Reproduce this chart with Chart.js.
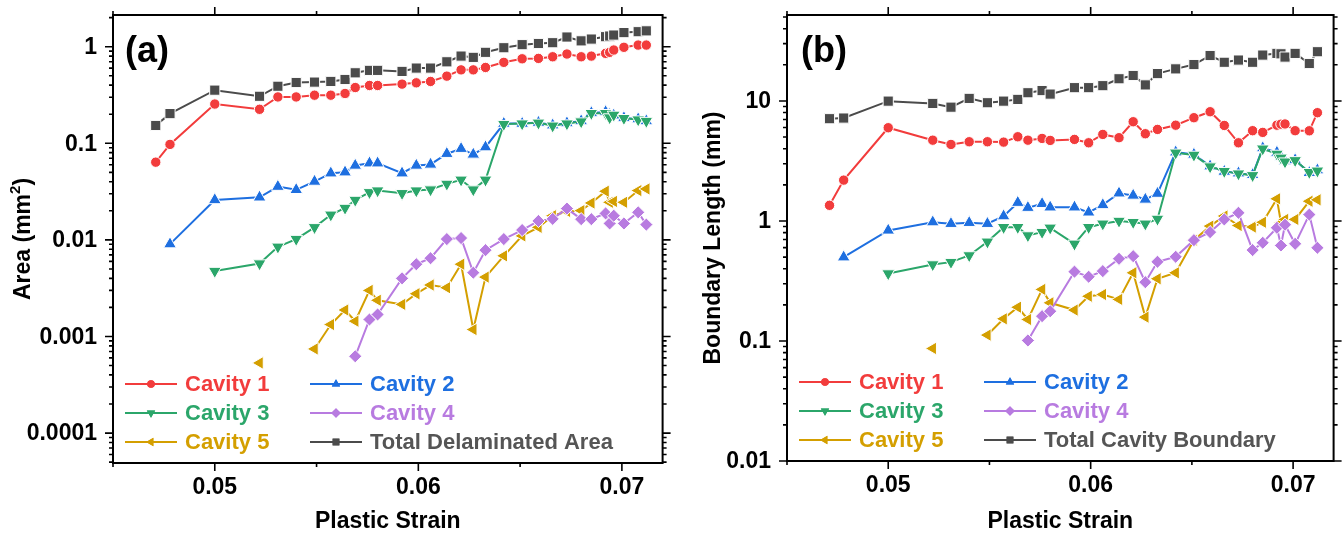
<!DOCTYPE html>
<html>
<head>
<meta charset="utf-8">
<script src="https://cdn.jsdelivr.net/npm/chart.js@4.4.1/dist/chart.umd.min.js"></script>
<style>
  body { margin: 0; background: #fff; }
  .panel { position: absolute; top: 0; width: 671px; height: 536px; }
</style>
</head>
<body>
<div class="panel" style="left:0"><canvas id="chartA" width="671" height="536"></canvas></div>
<div class="panel" style="left:671px"><canvas id="chartB" width="671" height="536"></canvas></div>
<script>
// plastic strain at each measurement
const strain = [0.0471, 0.0478, 0.0500, 0.0522, 0.0531, 0.0540, 0.0549, 0.0557, 0.0564, 0.0569,
                0.0576, 0.0580, 0.0592, 0.0599, 0.0606, 0.0614, 0.0621, 0.0627, 0.0633, 0.0642,
                0.0651, 0.0659, 0.0666, 0.0673, 0.0680, 0.0685, 0.0692, 0.0694, 0.0696, 0.0701,
                0.0708, 0.0712];

const seriesNames = ["Cavity 1", "Cavity 2", "Cavity 3", "Cavity 4", "Cavity 5"];

// (a) area, mm^2
const areaC1 = [0.0638, 0.0974, 0.255, 0.225, 0.302, 0.302, 0.315, 0.315, 0.328, 0.378,
                0.397, 0.397, 0.41, 0.423, 0.437, 0.496, 0.576, 0.576, 0.61, 0.689,
                0.75, 0.757, 0.787, 0.84, 0.787, 0.80, 0.854, 0.875, 0.924, 0.986,
                1.04, 1.04];
const areaC2 = [null, 0.00904, 0.0259, 0.0276, 0.0356, 0.033, 0.0402, 0.049, 0.0502, 0.0589,
                0.0622, 0.0622, 0.049, 0.0589, 0.0604, 0.078, 0.0879, 0.0767, 0.0912, 0.16,
                0.16, 0.164, 0.154, 0.162, 0.17, 0.206, 0.211, 0.198, 0.195, 0.183,
                0.178, 0.17];
const areaC3 = [null, null, 0.00476, 0.00569, 0.00848, 0.0102, 0.0135, 0.0182, 0.0214, 0.0259,
                0.0311, 0.0324, 0.0304, 0.0324, 0.0332, 0.038, 0.0419, 0.0332, 0.0419, 0.158,
                0.16, 0.163, 0.152, 0.16, 0.168, 0.205, 0.205, 0.185, 0.197, 0.182,
                0.176, 0.17];
const areaC4 = [null, null, null, null, null, null, null, null, null, 0.000624,
                0.0015, 0.00169, 0.004, 0.0056, 0.00646, 0.0102, 0.01045, 0.00458, 0.00783, 0.0102,
                0.01265, 0.0157, 0.0165, 0.0211, 0.0164, 0.0164, 0.0188, 0.0148, 0.0178, 0.0148,
                0.0193, 0.0144];
const areaC5 = [null, null, null, 0.000532, null, null, 0.000743, 0.00133, 0.00188, 0.00144,
                0.003, 0.00237, 0.00215, 0.00277, 0.00341, 0.0032, 0.0056, 0.00118, 0.00412, 0.00684,
                0.011, 0.0135, 0.0178, 0.0197, 0.0201, 0.0241, 0.0319, 0.0245, 0.025, 0.0245,
                0.0324, 0.0337];
const areaTotal = [0.153, 0.203, 0.355, 0.307, 0.39, 0.426, 0.43, 0.437, 0.458, 0.537,
                   0.569, 0.569, 0.555, 0.601, 0.601, 0.698, 0.80, 0.776, 0.875, 0.976,
                   1.05, 1.08, 1.10, 1.26, 1.15, 1.20, 1.27, 1.29, 1.32, 1.40,
                   1.43, 1.46];

// (b) boundary length, mm
const lenC1 = [1.35, 2.19, 5.98, 4.71, 4.34, 4.57, 4.57, 4.54, 5.03, 4.71,
               4.87, 4.69, 4.78, 4.48, 5.26, 4.94, 6.71, 5.33, 5.79, 6.28,
               7.25, 8.13, 6.25, 4.48, 5.65, 5.47, 6.28, 6.4, 6.43, 5.65,
               5.64, 7.98];
const lenC2 = [null, 0.499, 0.834, 0.977, 0.948, 0.966, 0.948, 1.097, 1.42, 1.29,
               1.39, 1.30, 1.30, 1.18, 1.36, 1.70, 1.63, 1.51, 1.69, 3.74,
               3.58, 2.86, 2.58, 2.5, 2.42, 4.05, 3.72, 3.42, 3.15, 3.22,
               2.52, 2.65];
const lenC3 = [null, null, 0.365, 0.434, 0.454, 0.516, 0.671, 0.887, 0.887, 0.757,
               0.807, 0.877, 0.645, 0.887, 0.948, 1.0, 0.977, 0.948, 1.04, 3.7,
               3.55, 2.84, 2.6, 2.48, 2.4, 4.0, 3.62, 3.36, 3.12, 3.2,
               2.55, 2.62];
const lenC4 = [null, null, null, null, null, null, null, null, null, 0.101,
               0.161, 0.177, 0.378, 0.343, 0.382, 0.484, 0.509, 0.309, 0.457, 0.503,
               0.692, 0.807, 1.03, 1.17, 0.572, 0.658, 0.877, 0.625, 0.93, 0.645,
               1.13, 0.598];
const lenC5 = [null, null, null, 0.0866, null, null, 0.112, 0.153, 0.191, 0.151,
               0.269, 0.208, 0.181, 0.236, 0.244, 0.222, 0.37, 0.158, 0.33, 0.37,
               0.692, 0.906, 1.1, 0.917, 0.89, 0.975, 1.53, 0.966, 1.03, 1.03,
               1.46, 1.5];
const lenTotal = [7.11, 7.2, 9.96, 9.53, 8.87, 10.5, 9.66, 9.96, 10.3, 11.7,
                  12.2, 11.4, 12.9, 12.9, 13.4, 15.3, 16.3, 13.6, 16.9, 18.5,
                  20.1, 23.9, 21.0, 21.9, 21.0, 24.1, 24.9, 24.7, 23.2, 24.9,
                  20.5, 25.7];

// axis ticks
const xMajor = [0.05, 0.06, 0.07];
const xMinor = [0.045, 0.055, 0.065];
const xLabels = ["0.05", "0.06", "0.07"];
const yMajorA = [1, 0.1, 0.01, 0.001, 0.0001];
const yLabelsA = ["1", "0.1", "0.01", "0.001", "0.0001"];
const yMajorB = [10, 1, 0.1, 0.01];
const yLabelsB = ["10", "1", "0.1", "0.01"];

const FONT = '"Liberation Sans", Arial, sans-serif';

const styles = [
  { color: '#F23C3C', pointStyle: 'circle', radius: 5.2, rotation: 0, order: 1 },
  { color: '#1E6FE0', pointStyle: 'triangle', radius: 7.4, rotation: 0, order: 3 },
  { color: '#2BA66A', pointStyle: 'triangle', radius: 7.4, rotation: 180, order: 2 },
  { color: '#B87BE0', pointStyle: 'rectRot', radius: 6.6, rotation: 0, order: 4 },
  { color: '#D49F00', pointStyle: 'triangle', radius: 7.4, rotation: 270, order: 5 },
  { color: '#4B4B4B', pointStyle: 'rect', radius: 7.2, rotation: 0, order: 6 }
];

const makeDatasets = (seriesList, labels) => seriesList.map((vals, i) => ({
  label: labels[i],
  data: strain.map((s, k) => ({ x: s, y: vals[k] })),
  borderColor: styles[i].color,
  backgroundColor: styles[i].color,
  borderWidth: 2,
  pointStyle: styles[i].pointStyle,
  pointRotation: styles[i].rotation,
  pointRadius: styles[i].radius,
  pointBackgroundColor: styles[i].color,
  pointBorderColor: '#ffffff',
  pointBorderWidth: 1,
  order: styles[i].order,
  tension: 0,
  spanGaps: false,
  fill: false
}));

// frame, outward ticks, labels, titles, panel letter and legend
const framePlugin = {
  id: 'frame',
  afterDraw(chart, args, opts) {
    const { ctx, chartArea: a } = chart;
    const x = chart.scales.x, y = chart.scales.y;
    ctx.save();
    ctx.strokeStyle = '#000';
    ctx.fillStyle = '#000';
    ctx.lineWidth = 2;
    ctx.strokeRect(a.left, a.top, a.right - a.left, a.bottom - a.top);

    ctx.lineWidth = 1.6;
    ctx.beginPath();
    xMajor.forEach(v => {
      const px = x.getPixelForValue(v);
      ctx.moveTo(px, a.bottom); ctx.lineTo(px, a.bottom + 8);
      ctx.moveTo(px, a.top); ctx.lineTo(px, a.top - 8);
    });
    xMinor.forEach(v => {
      const px = x.getPixelForValue(v);
      ctx.moveTo(px, a.bottom); ctx.lineTo(px, a.bottom + 4);
      ctx.moveTo(px, a.top); ctx.lineTo(px, a.top - 4);
    });
    const lo = Math.floor(Math.log10(y.min)), hi = Math.ceil(Math.log10(y.max));
    for (let d = lo; d <= hi; d++) {
      for (let m = 1; m <= 9; m++) {
        const v = m * Math.pow(10, d);
        if (v < y.min * 0.999 || v > y.max * 1.001) continue;
        const py = y.getPixelForValue(v);
        const len = m === 1 ? 8 : 4;
        ctx.moveTo(a.left, py); ctx.lineTo(a.left - len, py);
        ctx.moveTo(a.right, py); ctx.lineTo(a.right + len, py);
      }
    }
    ctx.stroke();

    ctx.font = 'bold 23px ' + FONT;
    ctx.textAlign = 'center';
    ctx.textBaseline = 'middle';
    xMajor.forEach((v, i) => ctx.fillText(xLabels[i], x.getPixelForValue(v), a.bottom + 25));
    ctx.textAlign = 'right';
    opts.yMajor.forEach((v, i) => ctx.fillText(opts.yLabels[i], a.left - 16, y.getPixelForValue(v) + 1));

    ctx.textAlign = 'center';
    ctx.fillText('Plastic Strain', (a.left + a.right) / 2, 522);

    // rotated y title, with optional superscript part
    ctx.save();
    ctx.translate(a.left - opts.titleOffset, (a.top + a.bottom) / 2);
    ctx.rotate(-Math.PI / 2);
    const parts = opts.yTitle;
    const widths = parts.map(p => {
      ctx.font = (p.sup ? 'bold 15px ' : 'bold 23px ') + FONT;
      return ctx.measureText(p.t).width;
    });
    let cx = -widths.reduce((s, w) => s + w, 0) / 2;
    ctx.textAlign = 'left';
    parts.forEach((p, i) => {
      ctx.font = (p.sup ? 'bold 15px ' : 'bold 23px ') + FONT;
      ctx.fillText(p.t, cx, p.sup ? -8 : 0);
      cx += widths[i];
    });
    ctx.restore();

    ctx.font = 'bold 36px ' + FONT;
    ctx.textAlign = 'left';
    ctx.textBaseline = 'alphabetic';
    ctx.fillText(opts.letter, a.left + opts.letterDx, 62);

    // legend, two columns
    ctx.font = 'bold 22px ' + FONT;
    ctx.textBaseline = 'middle';
    chart.data.datasets.forEach((ds, i) => {
      const col = i % 2, row = Math.floor(i / 2);
      const x0 = a.left + 12 + col * 185;
      const yy = a.bottom - 79 + row * 29;
      ctx.strokeStyle = ds.borderColor;
      ctx.lineWidth = 2;
      ctx.beginPath();
      ctx.moveTo(x0, yy); ctx.lineTo(x0 + 52, yy);
      ctx.stroke();
      ctx.fillStyle = ds.borderColor;
      Chart.helpers.drawPoint(ctx, {
        pointStyle: ds.pointStyle, rotation: ds.pointRotation,
        radius: ds.pointStyle === 'circle' ? 3.8 : 4.8, borderWidth: 0
      }, x0 + 26, yy);
      ctx.fill();
      ctx.fillStyle = i === 5 ? '#555555' : ds.borderColor;
      ctx.fillText(ds.label, x0 + 60, yy + 1);
    });
    ctx.restore();
  }
};

const makeChart = (id, datasets, yMin, yMax, pad, plug) => new Chart(document.getElementById(id), {
  type: 'line',
  data: { datasets },
  options: {
    responsive: false,
    animation: false,
    devicePixelRatio: 1,
    layout: { padding: pad },
    scales: {
      x: { type: 'linear', min: 0.045, max: 0.072, display: false },
      y: { type: 'logarithmic', min: yMin, max: yMax, display: false }
    },
    plugins: {
      legend: { display: false },
      tooltip: { enabled: false },
      frame: plug
    }
  },
  plugins: [framePlugin]
});

makeChart('chartA',
  makeDatasets([areaC1, areaC2, areaC3, areaC4, areaC5, areaTotal], [...seriesNames, 'Total Delaminated Area']),
  4.9e-5, 2.13,
  { left: 113, right: 6, top: 15, bottom: 73 },
  { yMajor: yMajorA, yLabels: yLabelsA,
    yTitle: [{ t: 'Area (mm' }, { t: '2', sup: true }, { t: ')' }],
    titleOffset: 89, letter: '(a)', letterDx: 12 });

makeChart('chartB',
  makeDatasets([lenC1, lenC2, lenC3, lenC4, lenC5, lenTotal], [...seriesNames, 'Total Cavity Boundary']),
  0.01, 52,
  { left: 116, right: 4, top: 15, bottom: 75 },
  { yMajor: yMajorB, yLabels: yLabelsB,
    yTitle: [{ t: 'Boundary Length (mm)' }],
    titleOffset: 73, letter: '(b)', letterDx: 14 });
</script>
</body>
</html>
